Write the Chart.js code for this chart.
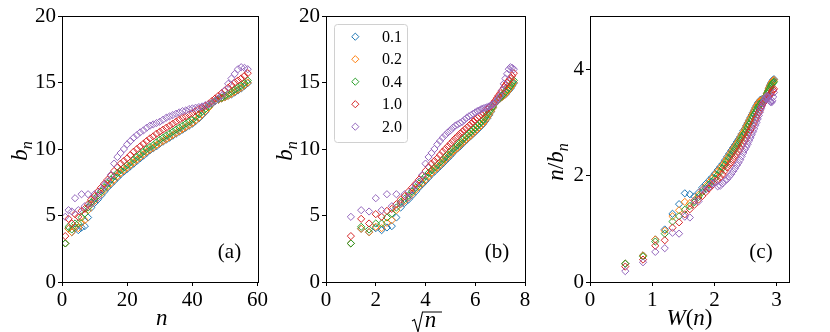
<!DOCTYPE html>
<html>
<head>
<meta charset="utf-8">
<script src="https://cdn.jsdelivr.net/npm/chart.js@4.4.0/dist/chart.umd.min.js"></script>
<style>
  html, body { margin: 0; padding: 0; background: #fff; }
  #wrap { position: relative; width: 830px; height: 332px; }
  canvas { position: absolute; top: 0; }
</style>
</head>
<body>
<div id="wrap">
  <canvas id="panelA" width="270" height="332" style="left:0"></canvas>
  <canvas id="panelB" width="265" height="332" style="left:270px"></canvas>
  <canvas id="panelC" width="295" height="332" style="left:535px"></canvas>
</div>
<script>
// =====================
// Datos
// =====================
const nVals = [1, 2, 3, 4, 5, 6, 7, 8, 9, 10, 11, 12, 13, 14, 15, 16, 17, 18, 19, 20,
  21, 22, 23, 24, 25, 26, 27, 28, 29, 30, 31, 32, 33, 34, 35, 36, 37, 38, 39, 40,
  41, 42, 43, 44, 45, 46, 47, 48, 49, 50, 51, 52, 53, 54, 55, 56, 57];

const etiquetas = ["0.1", "0.2", "0.4", "1.0", "2.0"];
const colores = ["#1f77b4", "#ff7f0e", "#2ca02c", "#d62728", "#9467bd"];

const b01 = [2.9, 4.0, 3.75, 4.05, 3.9, 4.1, 4.2, 4.85, 5.6, 5.95,
  6.2, 6.5, 6.8, 7.1, 7.35, 7.6, 7.85, 8.1, 8.3, 8.5,
  8.7, 8.9, 9.1, 9.3, 9.5, 9.7, 9.9, 10.05, 10.2, 10.4,
  10.55, 10.7, 10.85, 11.0, 11.15, 11.3, 11.45, 11.6, 11.75, 11.9,
  12.1, 12.3, 12.55, 12.8, 13.1, 13.4, 13.6, 13.7, 13.8, 13.9,
  14.0, 14.1, 14.25, 14.4, 14.55, 14.75, 14.95];

const b02 = [2.9, 4.0, 3.75, 4.15, 4.05, 4.45, 4.65, 5.4, 5.85, 6.1,
  6.35, 6.65, 6.95, 7.2, 7.45, 7.7, 7.95, 8.2, 8.4, 8.6,
  8.8, 9.0, 9.2, 9.4, 9.6, 9.8, 9.95, 10.1, 10.3, 10.45,
  10.6, 10.75, 10.9, 11.05, 11.2, 11.35, 11.5, 11.65, 11.8, 11.95,
  12.15, 12.35, 12.6, 12.85, 13.1, 13.4, 13.6, 13.7, 13.8, 13.9,
  14.0, 14.15, 14.3, 14.45, 14.6, 14.8, 15.0];

const b04 = [2.9, 4.15, 3.95, 4.4, 4.4, 4.85, 5.15, 5.6, 6.0, 6.25,
  6.5, 6.8, 7.1, 7.4, 7.7, 7.95, 8.2, 8.4, 8.6, 8.8,
  9.0, 9.2, 9.4, 9.6, 9.8, 10.0, 10.15, 10.3, 10.5, 10.7,
  10.85, 11.0, 11.15, 11.3, 11.45, 11.6, 11.75, 11.9, 12.05, 12.2,
  12.4, 12.6, 12.8, 13.0, 13.2, 13.45, 13.6, 13.75, 13.85, 14.0,
  14.15, 14.3, 14.45, 14.6, 14.75, 14.95, 15.15];

const b10 = [3.45, 4.75, 4.4, 5.1, 4.9, 5.35, 5.5, 5.85, 6.2, 6.45,
  6.8, 7.1, 7.4, 7.7, 8.0, 8.35, 8.65, 8.9, 9.1, 9.3,
  9.55, 9.8, 10.0, 10.2, 10.4, 10.6, 10.8, 10.95, 11.15, 11.3,
  11.45, 11.6, 11.75, 11.9, 12.05, 12.2, 12.35, 12.45, 12.6, 12.7,
  12.85, 13.0, 13.1, 13.25, 13.4, 13.6, 13.8, 14.0, 14.2, 14.4,
  14.6, 14.8, 15.0, 15.15, 15.3, 15.5, 15.7];

const b20 = [4.9, 5.4, 5.3, 6.3, 5.4, 6.6, 5.7, 6.6, 5.9, 6.6,
  6.35, 6.9, 7.3, 7.55, 8.05, 8.9, 9.4, 9.7, 10.0, 10.35,
  10.6, 10.85, 11.05, 11.25, 11.4, 11.6, 11.75, 11.85, 11.95, 12.05,
  12.2, 12.35, 12.45, 12.55, 12.65, 12.75, 12.85, 12.9, 13.0, 13.05,
  13.1, 13.15, 13.2, 13.3, 13.35, 13.45, 13.6, 13.8, 14.0, 14.4,
  14.9, 15.3, 15.65, 16.0, 16.15, 16.1, 16.0];

const series = [b01, b02, b04, b10, b20];

// Ticks de cada panel
const ticksAx = [0, 20, 40, 60];
const ticksAy = [0, 5, 10, 15, 20];
const ticksBx = [0, 2, 4, 6, 8];
const ticksBy = [0, 5, 10, 15, 20];
const ticksCx = [0, 1, 2, 3];
const ticksCy = [0, 2, 4];

// =====================
// Funciones auxiliares
// =====================
function lambertW(x) {
  let w = Math.log(1 + x);
  for (let i = 0; i < 30; i++) {
    const ew = Math.exp(w);
    w = w - (w * ew - x) / (ew * (w + 1));
  }
  return w;
}

const SERIF = '"Liberation Serif", "DejaVu Serif", serif';

// parts: [texto, estilo] con estilo "i" cursiva, "r" normal, "s" subíndice
function dibujarMath(ctx, parts, x, y, size) {
  const fuente = st => st === "r" ? `${size}px ${SERIF}`
    : st === "s" ? `italic ${Math.round(size * 0.7)}px ${SERIF}`
    : `italic ${size}px ${SERIF}`;
  let total = 0;
  const anchos = parts.map(([t, st]) => {
    ctx.font = fuente(st);
    const w = ctx.measureText(t).width;
    total += w;
    return w;
  });
  let cx = x - total / 2;
  ctx.fillStyle = "#000";
  ctx.textBaseline = "alphabetic";
  ctx.textAlign = "left";
  parts.forEach(([t, st], i) => {
    ctx.font = fuente(st);
    ctx.fillText(t, cx, y + (st === "s" ? size * 0.22 : 0));
    cx += anchos[i];
  });
}

function datasetsPara(xFn, yFn) {
  return series.map((serie, i) => ({
    label: etiquetas[i],
    data: serie.map((b, k) => ({ x: xFn(nVals[k]), y: yFn(b, nVals[k]) })),
    borderColor: colores[i],
    backgroundColor: "rgba(0,0,0,0)",
    borderWidth: 1,
    pointStyle: "rectRot",
    pointRadius: 3.6,
    order: series.length - i
  }));
}

function ejeOpc(min, max, ticks, tipo, medida) {
  return {
    type: "linear",
    min: min,
    max: max,
    afterBuildTicks: s => { s.ticks = ticks.map(v => ({ value: v })); },
    afterFit: s => { if (tipo === "x") s.height = medida; else s.width = medida; },
    grid: { display: true, drawOnChartArea: false, drawTicks: true, tickLength: 4, color: "#000", tickWidth: 1 },
    border: { display: false },
    ticks: {
      font: { family: SERIF, size: 21 },
      color: "#000",
      padding: 2,
      maxRotation: 0,
      autoSkip: false,
      callback: v => String(v)
    }
  };
}

// Decoración: marco, títulos de ejes, letra del panel, leyenda opcional
function decoracion(cfg) {
  return {
    id: "deco" + cfg.letra,
    afterDraw(chart) {
      const { ctx, chartArea: a } = chart;
      ctx.save();
      ctx.strokeStyle = "#000";
      ctx.lineWidth = 1;
      ctx.strokeRect(Math.round(a.left) + 0.5, Math.round(a.top) + 0.5,
        Math.round(a.right - a.left), Math.round(a.bottom - a.top));

      // letra del panel
      ctx.font = `21px ${SERIF}`;
      ctx.fillStyle = "#000";
      ctx.textAlign = "center";
      ctx.textBaseline = "middle";
      ctx.fillText("(" + cfg.letra + ")", a.right - 28, a.bottom - 30);

      // título eje x
      const cx = (a.left + a.right) / 2;
      if (cfg.raiz) {
        const x0 = cx + 1.5 - 15, yb = a.bottom + 45;
        ctx.lineWidth = 1.1;
        ctx.beginPath();
        ctx.moveTo(x0, yb - 6);
        ctx.lineTo(x0 + 2.5, yb - 7.5);
        ctx.lineTo(x0 + 6, yb + 5);
        ctx.lineTo(x0 + 10.5, yb - 15);
        ctx.lineTo(x0 + 30, yb - 15);
        ctx.stroke();
        dibujarMath(ctx, [["n", "i"]], x0 + 18.5, yb, 23);
      } else {
        dibujarMath(ctx, cfg.tituloX, cx + cfg.dx, a.bottom + 43, 23);
      }

      // título eje y (rotado)
      ctx.save();
      ctx.translate(a.left - cfg.dy, cfg.yMid);
      ctx.rotate(-Math.PI / 2);
      dibujarMath(ctx, cfg.tituloY, 0, 0, 23);
      ctx.restore();

      // leyenda
      if (cfg.leyenda) {
        const lx = a.left + 8, ly = a.top + 8, lw = 73, lh = 118;
        ctx.fillStyle = "rgba(255,255,255,0.85)";
        ctx.strokeStyle = "#d0d0d0";
        ctx.lineWidth = 1;
        ctx.beginPath();
        ctx.roundRect(lx + 0.5, ly + 0.5, lw, lh, 3);
        ctx.fill();
        ctx.stroke();
        etiquetas.forEach((et, i) => {
          const yy = a.top + 20.7 + i * 22.5;
          const mx = a.left + 29.3, r = 3.6;
          ctx.strokeStyle = colores[i];
          ctx.beginPath();
          ctx.moveTo(mx, yy - r);
          ctx.lineTo(mx + r, yy);
          ctx.lineTo(mx, yy + r);
          ctx.lineTo(mx - r, yy);
          ctx.closePath();
          ctx.stroke();
          ctx.fillStyle = "#000";
          ctx.font = `16px ${SERIF}`;
          ctx.textAlign = "left";
          ctx.textBaseline = "middle";
          ctx.fillText(et, a.left + 56, yy + 1);
        });
      }
      ctx.restore();
    }
  };
}

function crearPanel(id, datasets, xr, yr, anchoY, padDer, deco) {
  return new Chart(document.getElementById(id), {
    type: "scatter",
    data: { datasets: datasets },
    options: {
      responsive: false,
      animation: false,
      layout: { padding: { left: 0, top: 16, right: padDer, bottom: 0 } },
      plugins: { legend: { display: false }, tooltip: { enabled: false } },
      scales: {
        x: ejeOpc(xr[0], xr[1], xr[2], "x", 50),
        y: ejeOpc(yr[0], yr[1], yr[2], "y", anchoY)
      }
    },
    plugins: [decoracion(deco)]
  });
}

// =====================
// Paneles
// =====================
crearPanel("panelA", datasetsPara(n => n, b => b),
  [0, 60, ticksAx], [0, 20, ticksAy], 62, 9,
  { letra: "a", tituloX: [["n", "i"]], dx: 2, tituloY: [["b", "i"], ["n", "s"]], dy: 35, yMid: 151 });

crearPanel("panelB", datasetsPara(n => Math.sqrt(n), b => b),
  [0, 8, ticksBx], [0, 20, ticksBy], 56, 10,
  { letra: "b", raiz: true, tituloY: [["b", "i"], ["n", "s"]], dy: 34, yMid: 151, leyenda: true });

crearPanel("panelC", datasetsPara(n => lambertW(n), (b, n) => n / b),
  [0, 3.2, ticksCx], [0, 5, ticksCy], 55, 41,
  { letra: "c", tituloX: [["W", "i"], ["(", "r"], ["n", "i"], [")", "r"]], dx: 0,
    tituloY: [["n", "i"], ["/", "r"], ["b", "i"], ["n", "s"]], dy: 27, yMid: 162 });
</script>
</body>
</html>
